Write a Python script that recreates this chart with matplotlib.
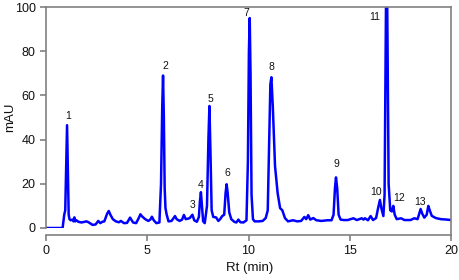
import matplotlib.pyplot as plt
import numpy as np

plt.rcParams['font.family'] = ['Liberation Sans', 'DejaVu Sans']

# retention time (min) and absorbance (mAU)
rt = [0, 0.82, 0.9, 0.95, 1.0, 1.04, 1.08, 1.12, 1.16, 1.22,
      1.3, 1.36, 1.4, 1.44, 1.5, 1.6, 1.75, 1.9, 2.0, 2.1,
      2.3, 2.45, 2.58, 2.68, 2.78, 2.88, 2.96, 3.02, 3.1, 3.18,
      3.3, 3.45, 3.6, 3.7, 3.85, 4.0, 4.15, 4.3, 4.45, 4.58,
      4.66, 4.75, 4.9, 5.05, 5.15, 5.23, 5.32, 5.45, 5.6, 5.68,
      5.74, 5.78, 5.82, 5.86, 5.9, 5.96, 6.05, 6.2, 6.3, 6.37,
      6.45, 6.6, 6.72, 6.81, 6.9, 7.0, 7.1, 7.23, 7.32, 7.45,
      7.55, 7.6, 7.65, 7.7, 7.76, 7.84, 7.95, 8.02, 8.07, 8.12,
      8.18, 8.26, 8.4, 8.51, 8.6, 8.7, 8.8, 8.87, 8.92, 8.97,
      9.05, 9.15, 9.3, 9.4, 9.5, 9.6, 9.75, 9.9, 9.97, 10.02,
      10.06, 10.1, 10.15, 10.22, 10.3, 10.5, 10.7, 10.85, 10.95, 11.02,
      11.08, 11.13, 11.2, 11.31, 11.44, 11.56, 11.67, 11.8, 11.95, 12.2,
      12.4, 12.6, 12.76, 12.85, 12.95, 13.05, 13.2, 13.35, 13.6, 13.9,
      14.1, 14.2, 14.27, 14.32, 14.38, 14.45, 14.55, 14.7, 14.9, 15.18,
      15.35, 15.59, 15.68, 15.75, 15.9, 16.03, 16.15, 16.3, 16.4, 16.49,
      16.56, 16.66, 16.72, 16.77, 16.82, 16.87, 16.92, 17.0, 17.08, 17.15,
      17.22, 17.32, 17.53, 17.7, 18.0, 18.19, 18.35, 18.45, 18.5, 18.58,
      18.68, 18.8, 18.88, 18.95, 19.05, 19.25, 19.5, 19.8, 20.0]
mau = [0, 0, 6, 8, 30, 46.5, 25, 6, 4, 3.5,
       3.8, 3, 4.8, 3, 3.5, 2.8, 2.5, 2.8, 3, 2.6,
       1.4, 1.6, 3.2, 2.2, 2.8, 3, 5, 6.5, 7.7, 6,
       4, 3, 2.6, 3.2, 2.2, 2.3, 4.7, 2.5, 2.2, 4.5,
       6.2, 5.2, 4, 3.2, 3.8, 5.1, 3.5, 2.2, 2.5, 20,
       55, 69, 50, 18, 9, 6, 3, 3.2, 4.5, 5.4,
       4, 3.2, 3.8, 5.9, 4, 4.2, 4.5, 6, 3.5, 2.8,
       5, 12, 16.2, 10, 3, 2.2, 10, 40, 55.2, 35,
       8, 5, 4.8, 3.2, 4, 5.4, 6, 16, 19.8, 16,
       7, 4, 2.8, 2.5, 3.8, 2.6, 2.5, 3.5, 30, 80,
       95, 70, 15, 4, 3, 3, 3.2, 4.5, 8, 40,
       65, 68.2, 55, 28, 15.7, 9, 8, 4.5, 3, 3.5,
       3, 3.2, 5, 4, 5.8, 3.8, 4.5, 3.5, 3.2, 3.5,
       3.5, 6, 18, 22.9, 18, 6, 3.8, 3.6, 3.6, 4.4,
       3.6, 4.4, 3.8, 4.4, 3.5, 5.4, 3.6, 4.5, 9, 12.7,
       9, 5.4, 15, 80, 135, 80, 20, 8, 7.5, 10,
       6, 4, 4.4, 3.6, 3.6, 4.4, 4, 7, 8.6, 6.5,
       4.7, 6, 10, 8, 5.5, 4.5, 4, 3.8, 3.6]

# peak numbers and where they sit
peak_ids = ["1", "2", "3", "4", "5", "6", "7", "8", "9", "10", "11", "12", "13"]
peak_x = [1.07, 5.88, 7.24, 7.65, 8.1, 8.95, 9.89, 11.13, 14.34, 16.31, 16.25, 17.43, 18.45]
peak_y = [50.8, 73.4, 10.4, 19.5, 58.4, 24.7, 97.1, 73.0, 29.0, 16.4, 95.6, 13.7, 11.9]

fig = plt.figure(figsize=(4.59, 2.80), dpi=100)
ax = fig.add_axes([46/459, 1-228/280, 405/459, 221/280])

ax.plot(rt, mau, color="#0000ff", lw=1.8)
for s, x, y in zip(peak_ids, peak_x, peak_y):
    ax.text(x, y, s, fontsize=7.5, ha="center", va="center", color="#111111")

ax.set_xlim(0, 20)
ax.set_ylim(0, 100)
ax.set_xticks([0, 5, 10, 15, 20])
ax.set_yticks([0, 20, 40, 60, 80, 100])

gray = "#808080"
for sp in ax.spines.values():
    sp.set_color(gray)
    sp.set_linewidth(1.2)
ax.spines["bottom"].set_position(("outward", 5))
ax.spines["right"].set_bounds(-3.2, 100)
ax.tick_params(colors=gray, labelcolor="#111111", labelsize=9, length=4, width=1.2)
ax.tick_params(axis="x", pad=3)

ax.set_ylabel("mAU", fontsize=9.5, color="#111111")
ax.set_xlabel("Rt (min)", fontsize=9.5, color="#111111")
ax.yaxis.set_label_coords(-0.074, 0.5)
ax.xaxis.set_label_coords(0.504, -0.155)

plt.savefig("out.png", dpi=100)
